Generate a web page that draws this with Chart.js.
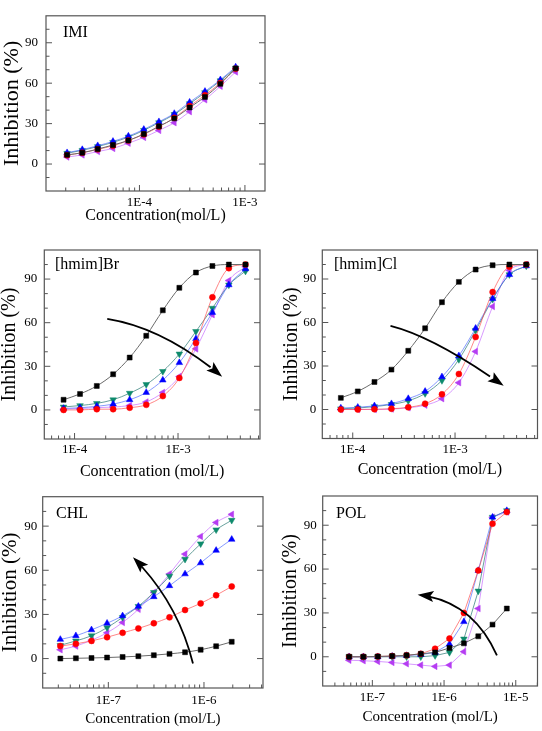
<!DOCTYPE html>
<html>
<head>
<meta charset="utf-8">
<script src="https://cdn.jsdelivr.net/npm/chart.js@4.4.1/dist/chart.umd.min.js"></script>
<style>
    html, body { margin: 0; padding: 0; background: #fff; }
    #wrap { position: relative; width: 542px; height: 731px; overflow: hidden; }
    #wrap canvas { position: absolute; }
</style>
</head>
<body>
<div id="wrap"></div>
<script>
// ---- data ----
const yTicks = [0, 30, 60, 90];

// IMI
const imiConc = [2.06e-5, 2.87e-5, 4.02e-5, 5.61e-5, 7.85e-5, 1.10e-4, 1.53e-4, 2.14e-4, 2.99e-4, 4.18e-4, 5.85e-4, 8.17e-4];
const imiBlack = [6.8, 8.4, 11.1, 14.1, 17.5, 22.3, 28, 33.9, 42, 49.8, 59.5, 71];
const imiRed = [6.6, 8.4, 10.9, 13.6, 17.5, 22, 27.7, 34.3, 43, 51.1, 60.2, 70.7];
const imiBlue = [8.4, 10.7, 13.6, 16.8, 20.7, 25.7, 31.4, 37.5, 45.9, 53.9, 62.5, 72];
const imiGreen = [8, 10.2, 13, 16.1, 20, 25, 30.7, 36.8, 44.8, 53, 61.8, 71.1];
const imiViolet = [5.2, 6.8, 9.3, 11.6, 15.5, 19.8, 25, 30.7, 38.9, 47.7, 57.7, 68.4];
const imiTicks = [1e-4, 1e-3];

// [hmim]Br
const brConc = [7.83e-5, 1.13e-4, 1.64e-4, 2.36e-4, 3.41e-4, 4.93e-4, 7.13e-4, 1.03e-3, 1.49e-3, 2.15e-3, 3.10e-3, 4.49e-3];
const brBlack = [7, 11, 16.5, 24.5, 36, 51, 68.5, 84, 94.5, 99, 100, 100];
const brRed = [0, 0, 0.5, 0.5, 1.5, 3.5, 9.5, 22, 46, 77.5, 97.5, 100];
const brBlue = [1, 1.5, 2.5, 4, 7, 12, 20.5, 32.5, 49, 67, 86, 97];
const brGreen = [2, 3, 4.5, 7, 11.5, 17.5, 26.5, 38.5, 54, 70, 86, 95.5];
const brViolet = [0.5, 1, 1.5, 2, 3, 5.5, 12, 23, 42, 65.5, 89, 98.5];
const brTicks = [1e-4, 1e-3];

// [hmim]Cl
const clConc = [7.65e-5, 1.12e-4, 1.63e-4, 2.39e-4, 3.49e-4, 5.10e-4, 7.45e-4, 1.09e-3, 1.59e-3, 2.33e-3, 3.40e-3, 4.97e-3];
const clBlack = [8, 12.5, 19, 27.5, 40.5, 56, 74, 88, 96.5, 99.5, 100, 100];
const clRed = [0, 0, 0.2, 0.5, 1.5, 4, 10.5, 24.5, 50, 81, 98.5, 100];
const clBlue = [1, 1.5, 2.5, 4, 7.5, 12.5, 22.5, 37, 56, 76.5, 93, 99];
const clGreen = [0.5, 1, 2, 3.5, 6, 11, 20, 34.5, 54.5, 76, 93, 99];
const clViolet = [0, 0, 0, 0.3, 1.2, 3, 7.5, 18.5, 40, 71, 96, 100];
const clTicks = [1e-4, 1e-3];

// CHL
const chlConc = [3.15e-8, 4.58e-8, 6.67e-8, 9.7e-8, 1.41e-7, 2.06e-7, 2.99e-7, 4.36e-7, 6.34e-7, 9.23e-7, 1.34e-6, 1.95e-6];
const chlBlack = [0, 0.2, 0.4, 0.7, 1.1, 1.6, 2.3, 3.2, 4.3, 6, 8.4, 11.4];
const chlRed = [8.5, 10, 12, 14.5, 17.5, 20.5, 24, 28, 33, 37.5, 43, 49];
const chlBlue = [13, 15.5, 19.5, 24, 29, 35.5, 42, 49.5, 57.5, 65, 73.5, 81];
const chlGreen = [9, 12, 15.5, 21, 28, 35.5, 45, 56, 67.5, 78, 87.5, 94];
const chlViolet = [6, 8.5, 12.5, 17.5, 24.5, 33.5, 45, 57.5, 71, 83, 92.5, 98];
const chlTicks = [1e-7, 1e-6];

// POL
const polConc = [4.74e-8, 7.5e-8, 1.19e-7, 1.89e-7, 3.0e-7, 4.74e-7, 7.5e-7, 1.19e-6, 1.89e-6, 3.0e-6, 4.74e-6, 7.5e-6];
const polBlack = [0, 0, 0.2, 0.5, 1, 2, 3, 6, 9.2, 14, 22, 33];
const polRed = [0, 0, 0.2, 0.5, 1, 2, 5.5, 12.5, 30, 59, 91, 99];
const polBlue = [0, 0, 0, 0.3, 0.8, 1.5, 3, 8.7, 24, 59, 95.5, 100];
const polGreen = [0, 0, 0, 0, 0, 0, 0.8, 3, 12.2, 45, 95.5, 100];
const polViolet = [-2.4, -2.7, -3.2, -3.9, -4.8, -5.7, -6.6, -5.7, 3.5, 33, 95.5, 99];
const polTicks = [1e-7, 1e-6, 1e-5];

// ---- styles ----
const serif = '"Liberation Serif", "Times New Roman", serif';
const seriesStyle = [
    { color: '#000000', line: '#6a6a6a', shape: 'rect', rot: 0, r: 3.5 },
    { color: '#ff0000', line: 'rgba(255,70,70,0.65)', shape: 'circle', rot: 0, r: 3 },
    { color: '#0000ff', line: 'rgba(70,100,255,0.65)', shape: 'triangle', rot: 0, r: 3.8 },
    { color: '#0e8a6c', line: 'rgba(40,120,115,0.7)', shape: 'triangle', rot: 180, r: 3.8 },
    { color: '#b53cf2', line: 'rgba(195,100,255,0.65)', shape: 'triangle', rot: 270, r: 3.8 }
];

// frame, inward ticks, panel label and curved arrow
function decoFor(d) {
    return {
        id: 'deco',
        afterDatasetsDraw: function(chart) {
            const ctx = chart.ctx, a = chart.chartArea;
            const xs = chart.scales.x, ys = chart.scales.y;
            ctx.save();
            ctx.strokeStyle = '#555';
            ctx.lineWidth = 1.2;
            ctx.strokeRect(a.left, a.top, a.right - a.left, a.bottom - a.top);

            function seg(x1, y1, x2, y2) {
                ctx.beginPath(); ctx.moveTo(x1, y1); ctx.lineTo(x2, y2); ctx.stroke();
            }
            ctx.lineWidth = 1;
            for (let v = -10; v <= 100; v += 10) {
                const py = ys.getPixelForValue(v);
                const major = v % 30 === 0;
                seg(a.left, py, a.left + (major ? 6 : 3.5), py);
                if (major) seg(a.right, py, a.right - 6, py);
            }
            const lo = Math.floor(Math.log10(xs.min)), hi = Math.ceil(Math.log10(xs.max));
            for (let e = lo; e <= hi; e++) {
                for (let m = 1; m <= 9; m++) {
                    const v = m * Math.pow(10, e);
                    if (v < xs.min || v > xs.max) continue;
                    const px = xs.getPixelForValue(v);
                    seg(px, a.bottom, px, a.bottom - (m === 1 ? 6 : 3.5));
                }
            }

            ctx.fillStyle = '#000';
            ctx.font = '16px ' + serif;
            ctx.textAlign = 'left';
            ctx.textBaseline = 'middle';
            ctx.fillText(d.label, a.left + d.dx, a.top + d.dy);

            // arrow (not every panel has one)
            if (d.from) {
                const P = function(p) { return { x: xs.getPixelForValue(p.x), y: ys.getPixelForValue(p.y) }; };
                const p0 = P(d.from), p1 = P(d.ctrl), p2 = P(d.to);
                const t = 0.9;
                const q1 = { x: p0.x + (p1.x - p0.x) * t, y: p0.y + (p1.y - p0.y) * t };
                const q2 = { x: p1.x + (p2.x - p1.x) * t, y: p1.y + (p2.y - p1.y) * t };
                const bt = { x: q1.x + (q2.x - q1.x) * t, y: q1.y + (q2.y - q1.y) * t };
                ctx.strokeStyle = '#000';
                ctx.lineWidth = 1.8;
                ctx.beginPath();
                ctx.moveTo(p0.x, p0.y);
                ctx.quadraticCurveTo(q1.x, q1.y, bt.x, bt.y);
                ctx.stroke();
                let dx = p2.x - q2.x, dy = p2.y - q2.y;
                const len = Math.hypot(dx, dy) || 1;
                dx /= len; dy /= len;
                const L = 16, W = 5.5;
                ctx.beginPath();
                ctx.moveTo(p2.x, p2.y);
                ctx.lineTo(p2.x - dx * L - dy * W, p2.y - dy * L + dx * W);
                ctx.lineTo(p2.x - dx * L * 0.8, p2.y - dy * L * 0.8);
                ctx.lineTo(p2.x - dx * L + dy * W, p2.y - dy * L - dx * W);
                ctx.closePath();
                ctx.fill();
            }
            ctx.restore();
        }
    };
}

function makePanel(g, conc, series, decades, deco) {
    const cv = document.createElement('canvas');
    cv.width = g.w;
    cv.height = g.h;
    cv.style.left = g.x + 'px';
    cv.style.top = g.y + 'px';
    document.getElementById('wrap').appendChild(cv);

    const datasets = series.map(function(vals, i) {
        const s = seriesStyle[i];
        return {
            data: conc.map(function(c, k) { return { x: c, y: vals[k] }; }),
            borderColor: s.line,
            borderWidth: 1,
            pointStyle: s.shape,
            pointRotation: s.rot,
            pointRadius: s.r,
            pointBackgroundColor: s.color,
            pointBorderColor: s.color,
            pointBorderWidth: 0.5,
            cubicInterpolationMode: g.smooth ? 'monotone' : 'default',
            tension: 0,
            fill: false
        };
    });

    new Chart(cv, {
        type: 'line',
        data: { datasets: datasets },
        options: {
            responsive: false,
            animation: false,
            devicePixelRatio: 1,
            layout: { padding: { left: 0, top: g.box.t - g.y, right: g.x + g.w - g.box.r, bottom: 0 } },
            plugins: { legend: { display: false }, tooltip: { enabled: false } },
            scales: {
                x: {
                    type: 'logarithmic',
                    min: g.xMin,
                    max: g.xMax,
                    grid: { display: false, drawTicks: false },
                    border: { display: false },
                    afterBuildTicks: function(s) { s.ticks = decades.map(function(v) { return { value: v }; }); },
                    afterFit: function(s) { s.height = g.y + g.h - g.box.b; },
                    ticks: {
                        autoSkip: false,
                        maxRotation: 0,
                        color: '#000',
                        padding: g.xTickY - g.box.b - 7.8,
                        font: { family: serif, size: 13 },
                        callback: function(v) { return '1E' + Math.round(Math.log10(v)); }
                    },
                    title: {
                        display: true,
                        text: g.xTitle,
                        color: '#000',
                        font: { family: serif, size: g.xTitleSize },
                        padding: { top: 0, bottom: g.y + g.h - g.xTitleY - g.xTitleSize * 0.6 }
                    }
                },
                y: {
                    min: -20,
                    max: 110,
                    grid: { display: false, drawTicks: false },
                    border: { display: false },
                    afterBuildTicks: function(s) { s.ticks = yTicks.map(function(v) { return { value: v }; }); },
                    afterFit: function(s) { s.width = g.box.l - g.x; },
                    ticks: { color: '#000', padding: g.yLabPad, font: { family: serif, size: 13 } },
                    title: {
                        display: true,
                        text: 'Inhibition (%)',
                        color: '#000',
                        font: { family: serif, size: g.yTitleSize },
                        padding: { top: g.yTitleX - g.x - g.yTitleSize * 0.6, bottom: 0 }
                    }
                }
            }
        },
        plugins: [decoFor(deco)]
    });
}

document.addEventListener('DOMContentLoaded', function() {
    makePanel(
        { x: 0, y: 0, w: 270, h: 230, box: { l: 46, t: 2, r: 265, b: 191 }, xMin: 1.30e-5, xMax: 1.55e-3,
          xTickY: 203, xTitleY: 216, xTitle: 'Concentration(mol/L)', xTitleSize: 16,
          yTitleX: 12, yTitleSize: 22, yLabPad: 8, smooth: true },
        imiConc, [imiBlack, imiRed, imiBlue, imiGreen, imiViolet], imiTicks,
        { label: 'IMI', dx: 17, dy: 17 }
    );
    makePanel(
        { x: 0, y: 228, w: 270, h: 255, box: { l: 44.3, t: 250, r: 260, b: 439 }, xMin: 5.1e-5, xMax: 6.2e-3,
          xTickY: 450, xTitleY: 472, xTitle: 'Concentration (mol/L)', xTitleSize: 16,
          yTitleX: 10, yTitleSize: 20, yLabPad: 7, smooth: true },
        brConc, [brBlack, brRed, brBlue, brGreen, brViolet], brTicks,
        { label: '[hmim]Br', dx: 10.7, dy: 15, from: { x: 2.07e-4, y: 62.7 }, ctrl: { x: 7.36e-4, y: 56.4 }, to: { x: 2.67e-3, y: 22.9 } }
    );
    makePanel(
        { x: 270, y: 228, w: 272, h: 255, box: { l: 322.3, t: 250, r: 539, b: 438.5 }, xMin: 5.04e-5, xMax: 6.4e-3,
          xTickY: 450, xTitleY: 470, xTitle: 'Concentration (mol/L)', xTitleSize: 16,
          yTitleX: 291.7, yTitleSize: 20, yLabPad: 6, smooth: true },
        clConc, [clBlack, clRed, clBlue, clGreen, clViolet], clTicks,
        { label: '[hmim]Cl', dx: 11.7, dy: 15, from: { x: 2.34e-4, y: 57.6 }, ctrl: { x: 6.25e-4, y: 50 }, to: { x: 2.99e-3, y: 16.3 } }
    );
    makePanel(
        { x: 0, y: 480, w: 270, h: 251, box: { l: 42.7, t: 496.7, r: 263, b: 688 }, xMin: 2.06e-8, xMax: 4.14e-6,
          xTickY: 700.7, xTitleY: 719, xTitle: 'Concentration (mol/L)', xTitleSize: 15,
          yTitleX: 10, yTitleSize: 21, yLabPad: 5.5, smooth: true },
        chlConc, [chlBlack, chlRed, chlBlue, chlGreen, chlViolet], chlTicks,
        { label: 'CHL', dx: 13.3, dy: 17.3, from: { x: 7.67e-7, y: -3.4 }, ctrl: { x: 5.34e-7, y: 38.2 }, to: { x: 1.81e-7, y: 68.8 } }
    );
    makePanel(
        { x: 270, y: 480, w: 272, h: 251, box: { l: 322.7, t: 496, r: 539.3, b: 686 }, xMin: 2.03e-8, xMax: 2.01e-5,
          xTickY: 698, xTitleY: 717, xTitle: 'Concentration (mol/L)', xTitleSize: 15,
          yTitleX: 291, yTitleSize: 20, yLabPad: 6, smooth: false },
        polConc, [polBlack, polRed, polBlue, polGreen, polViolet], polTicks,
        { label: 'POL', dx: 13.3, dy: 18, from: { x: 5.46e-6, y: 0.9 }, ctrl: { x: 2.48e-6, y: 38.6 }, to: { x: 4.28e-7, y: 42.4 } }
    );
});
</script>
</body>
</html>
